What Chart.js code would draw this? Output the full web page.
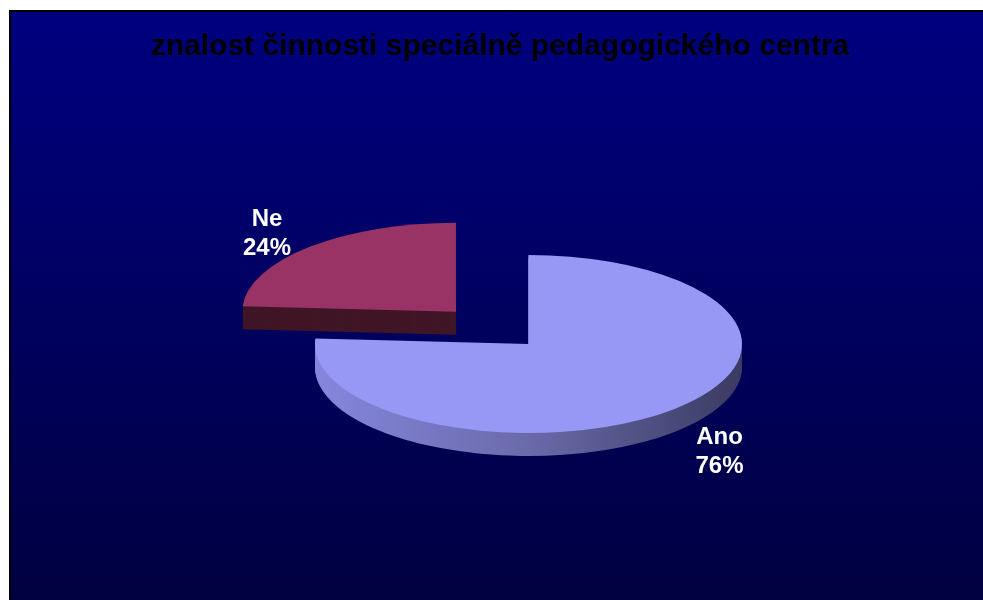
<!DOCTYPE html>
<html>
<head>
<meta charset="utf-8">
<script src="https://cdn.jsdelivr.net/npm/chart.js@4.4.0/dist/chart.umd.min.js"></script>
<style>
html, body { margin: 0; padding: 0; background: #fff; overflow: hidden; width: 983px; height: 600px; }
#frame { position: absolute; left: 9px; top: 10px; width: 1000px; height: 600px;
  border-left: 2px solid #000; border-top: 2px solid #000;
  background: linear-gradient(#000080, #00003f); }
#c { position: absolute; left: 11px; top: 12px; }
</style>
</head>
<body>
<div id="frame"></div>
<canvas id="c" width="978" height="588"></canvas>
<script>
// ---- data ----
const chartTitle = 'znalost činnosti speciálně pedagogického centra';
const categories = ['Ano', 'Ne'];
const values = [76, 24];

// ---- styles ----
const topColors = ['#9797F6', '#993366'];
const FONT = "'Liberation Sans', Arial, sans-serif";
const DEPTH = 23;             // extrusion depth in screen px
const TCX = 517.5, TCY = 332; // projected pie centre (canvas px)
const RX = 213.5, RY = 89;    // projected radii

function project(ctx, e) {
  ctx.translate(TCX, TCY);
  ctx.scale(RX / e.outerRadius, RY / e.outerRadius);
  ctx.translate(-e.x, -e.y);
}

function sideFill(ctx, i, e) {
  if (i === 0) {
    const g = ctx.createLinearGradient(e.x - e.outerRadius, 0, e.x + e.outerRadius, 0);
    g.addColorStop(0, 'rgb(134,134,222)');
    g.addColorStop(0.5, 'rgb(106,106,170)');
    g.addColorStop(1, 'rgb(58,58,98)');
    return g;
  }
  return 'rgb(64,22,38)';
}

const pie3d = {
  id: 'pie3d',
  beforeDatasetsDraw(chart) {
    const ctx = chart.ctx;
    const els = chart.getDatasetMeta(0).data;
    const e0 = els[0];
    // back-to-front order by vertical position of the slice middle
    const order = els.map((el, i) => i).sort((a, b) => {
      const ma = (els[a].startAngle + els[a].endAngle) / 2;
      const mb = (els[b].startAngle + els[b].endAngle) / 2;
      return Math.sin(ma) - Math.sin(mb);
    });
    for (const i of order) {
      const el = els[i];
      const orig = el.options;
      for (let d = DEPTH; d >= 1; d--) {
        ctx.save();
        ctx.translate(0, d);
        project(ctx, e0);
        el.options = Object.assign({}, orig, { backgroundColor: sideFill(ctx, i, el), borderWidth: 0 });
        el.draw(ctx);
        ctx.restore();
      }
      el.options = orig;
    }
    ctx.save();
    project(ctx, e0);
  },
  afterDatasetsDraw(chart) {
    const ctx = chart.ctx;
    ctx.restore();
    const els = chart.getDatasetMeta(0).data;
    const data = chart.data.datasets[0].data;
    const total = data.reduce((s, v) => s + v, 0);
    ctx.save();
    ctx.fillStyle = '#fff';
    ctx.font = 'bold 24px ' + FONT;
    ctx.textAlign = 'center';
    ctx.textBaseline = 'middle';
    els.forEach((el, i) => {
      const r = el.outerRadius;
      const mid = (el.startAngle + el.endAngle) / 2;
      const off = (el.options.offset || 0) / 4;
      const dist = off + r * 1.3;
      const px = TCX + Math.cos(mid) * dist * RX / r;
      let py = TCY + Math.sin(mid) * dist * RY / r;
      py += Math.sin(mid) > 0 ? DEPTH + 1 : 6;
      const pct = Math.round(data[i] / total * 100) + '%';
      ctx.fillText(chart.data.labels[i], px + 1, py - 14.5);
      ctx.fillText(pct, px + 1, py + 14.5);
    });
    ctx.restore();
  }
};

new Chart(document.getElementById('c'), {
  type: 'pie',
  data: {
    labels: categories,
    datasets: [{
      data: values,
      backgroundColor: topColors,
      borderWidth: 0,
      offset: [0, 262],
      hoverOffset: 0,
      clip: false
    }]
  },
  options: {
    responsive: false,
    animation: false,
    events: [],
    layout: { padding: 0 },
    plugins: {
      legend: { display: false },
      tooltip: { enabled: false },
      title: {
        display: true,
        text: chartTitle,
        color: '#000',
        font: { family: FONT, size: 30, weight: 'bold', lineHeight: 1.2 },
        padding: { top: 17, bottom: 9 }
      }
    }
  },
  plugins: [pie3d]
});
</script>
</body>
</html>
